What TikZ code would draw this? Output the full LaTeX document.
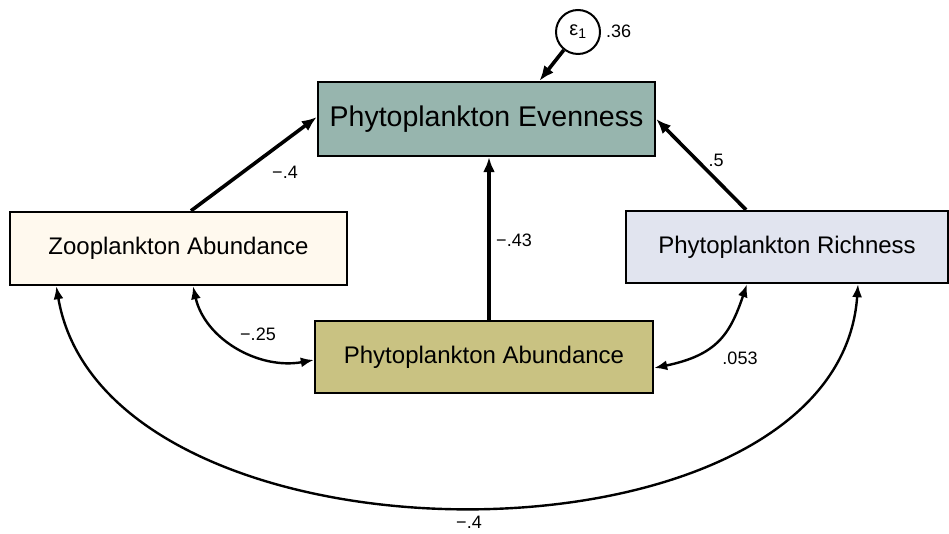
\documentclass[tikz,border=0pt]{standalone}
\usepackage{fontspec}
\setmainfont{Liberation Sans}
\usetikzlibrary{arrows.meta}
\definecolor{evenfill}{HTML}{97B5AE}
\definecolor{zoofill}{HTML}{FFF9EE}
\definecolor{richfill}{HTML}{E1E4EF}
\definecolor{pafill}{HTML}{C9C282}
\begin{document}
\begin{tikzpicture}[x=1pt,y=1pt,
  box/.style={draw=black, line width=2.4pt, inner sep=0pt, font=\fontsize{24}{28}\selectfont},
  lbl/.style={font=\fontsize{18}{20}\selectfont, inner sep=0pt},
  path1/.style={line width=3.6pt, -{Latex[length=15pt,width=12pt]}},
  cov/.style={line width=2.4pt, {Latex[length=13pt,width=10pt]}-{Latex[length=13pt,width=10pt]}}]
\useasboundingbox (0,0) rectangle (949,533);
\fill[white] (0,0) rectangle (949,533);
\node[box, fill=evenfill, minimum width=337pt, minimum height=74pt, font=\fontsize{28.5}{32}\selectfont] (even) at (486.5,414) {Phytoplankton Evenness};
\node[box, fill=zoofill, minimum width=337pt, minimum height=73pt] (zoo) at (178.5,284.5) {Zooplankton Abundance};
\node[box, fill=richfill, minimum width=322pt, minimum height=72pt] (rich) at (787,286) {Phytoplankton Richness};
\node[box, fill=pafill, minimum width=338pt, minimum height=72pt] (pa) at (484,176) {Phytoplankton Abundance};
\node[draw=black, line width=2pt, circle, minimum size=44pt, inner sep=0pt, fill=white, font=\fontsize{20}{22}\selectfont] (eps) at (578,501) {ε\textsubscript{1}};
\node[lbl, anchor=west] (v36) at (606,502) {.36};
% paths
\draw[path1] (eps) -- ([xshift=53pt]even.north);
\draw[path1] ([xshift=12.5pt]zoo.north) -- ([yshift=2pt]even.west);
\node[lbl] (l1) at (285,361) {−.4};
\draw[path1] ([xshift=5pt]pa.north) -- ([xshift=2.5pt]even.south);
\node[lbl] (l2) at (514,293) {−.43};
\draw[path1] ([xshift=-41pt]rich.north) -- (even.east);
\node[lbl] (l3) at (716,373) {.5};
% covariances
\draw[cov] ([xshift=14.5pt]zoo.south) .. controls +(12,-53) and +(-55,-10) .. ([yshift=-3pt]pa.west);
\node[lbl] (l4) at (258,199) {−.25};
\draw[cov] ([yshift=-11pt]pa.east) .. controls +(63,13) and +(-17,-50) .. ([xshift=-40pt]rich.south);
\node[lbl] (l5) at (740,175) {.053};
\draw[cov] ([xshift=47.5pt]zoo.south west) .. controls +(50,-294) and +(-20,-296) .. ([xshift=71pt]rich.south);
\node[lbl, anchor=south] (l6) at (469,4) {−.4};
\end{tikzpicture}
\end{document}
